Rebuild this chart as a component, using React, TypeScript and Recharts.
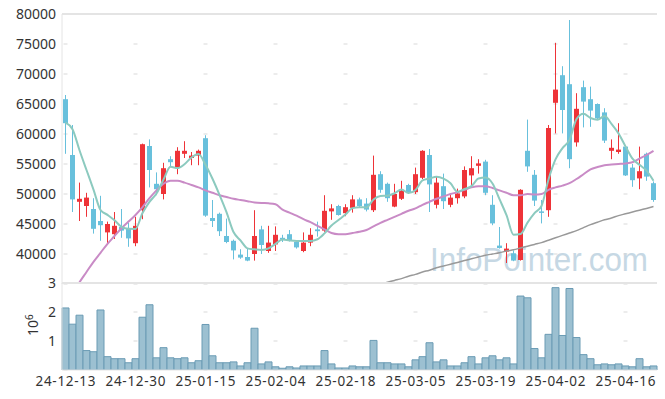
import React from 'react';
import { ComposedChart, Bar, Line, XAxis, YAxis, CartesianGrid, ReferenceLine } from 'recharts';

const dates = [
  '24-12-13', '24-12-16', '24-12-17', '24-12-18', '24-12-19', '24-12-20', '24-12-23', '24-12-24', '24-12-26', '24-12-27',
  '24-12-30', '25-01-02', '25-01-03', '25-01-06', '25-01-07', '25-01-08', '25-01-09', '25-01-10', '25-01-13', '25-01-14',
  '25-01-15', '25-01-16', '25-01-17', '25-01-20', '25-01-21', '25-01-22', '25-01-23', '25-01-24', '25-01-31', '25-02-03',
  '25-02-04', '25-02-05', '25-02-06', '25-02-07', '25-02-10', '25-02-11', '25-02-12', '25-02-13', '25-02-14', '25-02-17',
  '25-02-18', '25-02-19', '25-02-20', '25-02-21', '25-02-24', '25-02-25', '25-02-26', '25-02-27', '25-02-28', '25-03-04',
  '25-03-05', '25-03-06', '25-03-07', '25-03-10', '25-03-11', '25-03-12', '25-03-13', '25-03-14', '25-03-17', '25-03-18',
  '25-03-19', '25-03-20', '25-03-21', '25-03-24', '25-03-25', '25-03-26', '25-03-27', '25-03-28', '25-03-31', '25-04-01',
  '25-04-02', '25-04-03', '25-04-04', '25-04-07', '25-04-08', '25-04-09', '25-04-10', '25-04-11', '25-04-14', '25-04-15',
  '25-04-16', '25-04-17', '25-04-18', '25-04-21', '25-04-22',
];

const opens = [
  65800, 56500, 48700, 48000, 47500, 45500, 43600, 43300, 44500, 44300,
  41800, 47300, 58000, 51700, 50000, 55800, 54400, 56700, 56000, 56400,
  59300, 46000, 46700, 43000, 42200, 39900, 39500, 40000, 44100, 40500,
  41600, 42700, 43300, 42000, 40500, 41900, 44100, 43900, 47100, 48000,
  46800, 47700, 49100, 48400, 47300, 53300, 51700, 47900, 49200, 51500,
  50300, 52700, 56500, 48200, 51300, 48200, 49300, 49600, 53100, 54700,
  55400, 48200, 41400, 40400, 40100, 39000, 57200, 53200, 47100, 47300,
  65200, 69800, 68300, 58600, 67800, 65800, 65000, 63600, 57200, 57000,
  57900, 54400, 52600, 56700, 51800,
];

const highs = [
  66500, 61500, 51900, 50200, 49300, 49700, 45400, 47000, 47500, 45200,
  46200, 58400, 59100, 53600, 55200, 56300, 57800, 58800, 57000, 57400,
  59800, 49000, 46900, 45900, 42400, 40800, 40900, 47300, 44700, 44700,
  44600, 43200, 44000, 42200, 43600, 44300, 45400, 49800, 48300, 48200,
  48300, 49800, 49400, 49300, 56400, 53800, 51900, 51700, 52200, 51700,
  54400, 57300, 57500, 53000, 53400, 50000, 50900, 54600, 56300, 55800,
  55700, 49800, 44500, 41800, 40600, 50800, 62400, 54000, 49000, 61500,
  75200, 71300, 79000, 66800, 68900, 67900, 65100, 64300, 59100, 61800,
  58000, 55000, 57900, 56900, 52100,
];

const lows = [
  56700, 47000, 45500, 46200, 43400, 42200, 41800, 42500, 42700, 41200,
  41300, 45800, 51100, 49800, 49100, 54500, 53300, 56000, 54800, 54800,
  46200, 44500, 43000, 41800, 39100, 39200, 38800, 38900, 40000, 40200,
  40500, 42000, 42100, 40900, 40300, 41300, 42900, 43700, 45700, 46400,
  46300, 46900, 47800, 47100, 47000, 50200, 48700, 47800, 49000, 50000,
  50000, 52500, 47000, 47600, 47500, 47800, 48400, 49300, 51500, 53400,
  49800, 44800, 40900, 38500, 38800, 38900, 53700, 48000, 45100, 46200,
  60100, 60100, 54300, 57900, 61100, 61200, 62400, 58500, 55800, 56700,
  53000, 51200, 50800, 52200, 48700,
];

const closes = [
  61800, 49100, 49200, 49400, 44200, 44800, 45000, 44700, 43900, 42600,
  44700, 58300, 54000, 50800, 54300, 55300, 57200, 57200, 56400, 57200,
  46400, 45500, 43800, 42000, 40600, 39400, 38900, 43000, 41500, 41900,
  43200, 42400, 42300, 41100, 41900, 43200, 43800, 47200, 47600, 46500,
  47800, 49100, 48000, 47400, 53200, 50700, 49300, 50000, 50500, 50300,
  53300, 57200, 51600, 51900, 48800, 49400, 50100, 54000, 54300, 55100,
  50200, 45100, 41000, 40900, 38900, 50700, 54600, 48900, 46900, 61000,
  67400, 64000, 55800, 64200, 65400, 63900, 62600, 58900, 57700, 57400,
  53100, 52300, 53800, 52900, 49000,
];

// volume in millions of shares
const volumes = [
  2.14, 1.58, 1.89, 0.67, 0.63, 2.07, 0.46, 0.39, 0.39, 0.25,
  0.39, 1.82, 2.25, 0.42, 0.77, 0.42, 0.39, 0.42, 0.25, 0.32,
  1.57, 0.49, 0.25, 0.25, 0.28, 0.14, 0.25, 1.44, 0.21, 0.28,
  0.11, 0.06, 0.11, 0.07, 0.14, 0.14, 0.14, 0.67, 0.21, 0.07,
  0.07, 0.14, 0.11, 0.11, 1.02, 0.25, 0.25, 0.21, 0.21, 0.11,
  0.35, 0.46, 0.94, 0.28, 0.35, 0.14, 0.14, 0.25, 0.46, 0.21,
  0.42, 0.49, 0.35, 0.42, 0.21, 2.55, 2.49, 0.74, 0.42, 1.23,
  2.84, 1.19, 2.81, 1.12, 0.53, 0.39, 0.18, 0.21, 0.18, 0.21,
  0.14, 0.11, 0.39, 0.11, 0.14,
];

const ma5 = [
  61900, 60800, 57300, 54000, 50740, 47340, 46520, 45620, 44520, 44200,
  44180, 46840, 48700, 50080, 52420, 54540, 54320, 54960, 56080, 56660,
  54880, 52540, 49860, 46980, 43660, 42260, 40940, 40780, 40680, 40940,
  41700, 42400, 42260, 42180, 42180, 42180, 42460, 43440, 44740, 45660,
  46580, 47640, 47800, 47760, 49100, 49680, 49720, 50120, 50740, 50160,
  50680, 52260, 52580, 52860, 52560, 51780, 50360, 50840, 51320, 52580,
  52740, 51740, 49140, 46460, 43220, 43320, 45220, 46800, 48000, 52420,
  55760, 57640, 59020, 62480, 63360, 62660, 62380, 63000, 61700, 60100,
  57940, 55880, 54860, 53900, 52220,
];

const ma20 = [
  31500, 33500, 35300, 37000, 38700, 40200, 41700, 43000, 44300, 45400,
  46500, 47800, 49300, 50600, 51700, 52200, 52200, 51900, 51500, 51100,
  50600, 50200, 49800, 49500, 49200, 49000, 48800, 48600, 48500, 48450,
  48300, 47400, 46900, 46400, 45800, 45300, 44700, 44100, 43500, 43300,
  43300, 43500, 43700, 44000, 44600, 45200, 45700, 46200, 46700, 47200,
  47600, 48200, 48700, 49200, 49600, 50000, 50300, 50700, 51100, 51300,
  51300, 51000, 50600, 50200, 49800, 49800, 50000, 49900, 50000, 50700,
  51100, 51400, 51800, 52500, 53300, 54100, 54500, 54800, 54900, 55000,
  55100, 55300, 55900, 56500, 57200,
];

const ma60 = [
  null, null, null, null, null, null, null, null, null, null,
  null, null, null, null, null, null, null, null, null, null,
  null, null, null, null, null, null, null, null, null, null,
  null, null, null, null, null, null, null, null, null, null,
  null, null, null, null, 34700, 35000, 35300, 35600, 35900, 36300,
  36600, 37000, 37300, 37700, 38000, 38300, 38600, 38900, 39200, 39500,
  39800, 40000, 40200, 40500, 40700, 41000, 41300, 41600, 41900, 42300,
  42700, 43100, 43500, 43900, 44400, 44900, 45300, 45700, 46000, 46400,
  46700, 47000, 47300, 47600, 47900,
];

const priceTicks = [40000, 45000, 50000, 55000, 60000, 65000, 70000, 75000, 80000];
const volumeTicks = [1, 2, 3];

const UP_COLOR = '#ee3338';
const DOWN_COLOR = '#68c0dc';
const GRID_COLOR = '#d9d9d9';
const BORDER_COLOR = '#e4e4e4';
const FONT = "'Noto Sans', 'DejaVu Sans', sans-serif";

const data = dates.map((date, i) => ({
  date,
  open: opens[i],
  high: highs[i],
  low: lows[i],
  close: closes[i],
  range: [lows[i], highs[i]],
  vol: volumes[i],
  ma5: ma5[i],
  ma20: ma20[i],
  ma60: ma60[i],
}));

const gridDates = dates.filter((_, i) => i % 10 === 0);

const verticalGen = (args: any) => {
  const s = args && args.xAxis && args.xAxis.scale;
  if (!s || typeof s !== 'function') return [];
  const bw = typeof s.bandwidth === 'function' ? s.bandwidth() : 0;
  return gridDates.map((d) => s(d) + bw / 2);
};

function Candle(props: any) {
  const { x, y, width, height, payload } = props;
  if (!payload) return null;
  const { open, close, high, low } = payload;
  const color = close >= open ? UP_COLOR : DOWN_COLOR;
  const span = high - low;
  const k = span > 0 ? height / span : 0;
  const yTop = y + (high - Math.max(open, close)) * k;
  const yBot = y + (high - Math.min(open, close)) * k;
  const cx = x + width / 2;
  const bodyW = 5;
  return (
    <g>
      <rect x={cx - 0.5} y={y} width={1} height={Math.max(height, 1)} fill={color} />
      <rect x={cx - bodyW / 2} y={yTop} width={bodyW} height={Math.max(yBot - yTop, 1.5)} fill={color} />
    </g>
  );
}

function DateTick(props: any) {
  const { x, y, payload } = props;
  return (
    <text x={x} y={y} dy={16} textAnchor="middle" fill="#333" fontSize={13.5} fontFamily={FONT} textLength={60} lengthAdjust="spacing">
      {payload.value}
    </text>
  );
}

const yTick = { fill: '#333', fontSize: 14, fontFamily: FONT };

export default function App() {
  return (
    <div style={{ position: 'absolute', left: 0, top: 0, width: 665, height: 399, background: '#fff', fontFamily: FONT }}>
      <svg width={665} height={399} style={{ position: 'absolute', left: 0, top: 0 }}>
        <text x={430} y={271} fontSize={34} fontFamily="'Liberation Sans', Arial, sans-serif" fill="#c6d8e4" textLength={218} lengthAdjust="spacingAndGlyphs">
          InfoPointer.com
        </text>
      </svg>
      <div style={{ position: 'absolute', left: 0, top: 0 }}>
        <ComposedChart width={665} height={285} data={data} margin={{ top: 14, right: 8, left: 0, bottom: 1 }} barCategoryGap={0}>
          <CartesianGrid vertical={false} stroke={GRID_COLOR} strokeDasharray="0 1.5 4 64.5" />
          <CartesianGrid horizontal={false} stroke={GRID_COLOR} strokeDasharray="2 26 2 0" verticalCoordinatesGenerator={verticalGen} />
          <XAxis dataKey="date" hide interval={9} />
          <YAxis
            domain={[35000, 80000]}
            ticks={priceTicks}
            allowDataOverflow
            width={62}
            tickLine={false}
            tickSize={0}
            tickMargin={6}
            axisLine={{ stroke: BORDER_COLOR }}
            tick={yTick}
          />
          <YAxis yAxisId="right" orientation="right" width={0} tick={false} tickLine={false} axisLine={{ stroke: BORDER_COLOR }} />
          <ReferenceLine y={80000} stroke={BORDER_COLOR} strokeWidth={2} />
          <Bar dataKey="range" shape={Candle} isAnimationActive={false} />
          <Line dataKey="ma60" type="monotone" stroke="#999999" strokeWidth={1.5} dot={false} activeDot={false} isAnimationActive={false} />
          <Line dataKey="ma20" type="monotone" stroke="#c98bc6" strokeWidth={2} dot={false} activeDot={false} isAnimationActive={false} />
          <Line dataKey="ma5" type="monotone" stroke="#8ccabf" strokeWidth={2} dot={false} activeDot={false} isAnimationActive={false} />
        </ComposedChart>
      </div>
      <div style={{ position: 'absolute', left: 0, top: 268 }}>
        <ComposedChart width={665} height={131} data={data} margin={{ top: 15, right: 8, left: 0, bottom: 0 }} barCategoryGap={0}>
          <CartesianGrid vertical={false} stroke={GRID_COLOR} strokeDasharray="0 1.5 4 64.5" />
          <CartesianGrid horizontal={false} stroke={GRID_COLOR} strokeDasharray="2 25 2 0" verticalCoordinatesGenerator={verticalGen} />
          <XAxis dataKey="date" interval={9} height={29} tickLine={false} tickSize={0} tickMargin={0} axisLine={{ stroke: BORDER_COLOR }} tick={<DateTick />} />
          <YAxis
            domain={[0, 3]}
            ticks={volumeTicks}
            allowDataOverflow
            width={62}
            tickLine={false}
            tickSize={0}
            tickMargin={6}
            axisLine={{ stroke: BORDER_COLOR }}
            tick={yTick}
          />
          <YAxis yAxisId="right" orientation="right" width={0} tick={false} tickLine={false} axisLine={{ stroke: BORDER_COLOR }} />
          <ReferenceLine y={3} stroke={BORDER_COLOR} strokeWidth={2} />
          <Bar dataKey="vol" fill="#9cc0d1" stroke="#6a9bb4" strokeWidth={1} isAnimationActive={false} />
        </ComposedChart>
      </div>
      <svg width={665} height={399} style={{ position: 'absolute', left: 0, top: 0, pointerEvents: 'none' }}>
        <text transform="translate(38,336) rotate(-90)" fontSize={14} fill="#333" fontFamily={FONT}>
          10<tspan dy={-5} fontSize={10}>6</tspan>
        </text>
      </svg>
    </div>
  );
}
